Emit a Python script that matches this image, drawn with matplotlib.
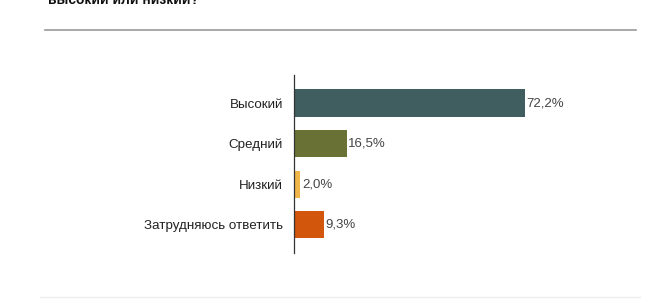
import matplotlib.pyplot as plt
from matplotlib.lines import Line2D

# данные
categories = ['Высокий', 'Средний', 'Низкий', 'Затрудняюсь ответить']
values = [72.2, 16.5, 2.0, 9.3]
value_labels = ['72,2%', '16,5%', '2,0%', '9,3%']
colors = ['#405e5f', '#697234', '#f1b64a', '#d2560c']

plt.rcParams['font.family'] = ['Liberation Sans', 'DejaVu Sans']

fig = plt.figure(figsize=(6.6, 3.0), dpi=100)
ax = fig.add_axes([0.4455, 0.157, 0.485, 0.593])

ax.barh(range(len(categories)), values, height=0.67, color=colors)
for i, v in enumerate(values):
    ax.text(v + 0.5, i, value_labels[i], va='center', ha='left',
            fontsize=9.5, color='#444444')

ax.set_ylim(3.69, -0.69)
ax.set_xlim(0, 100)
ax.set_yticks(range(len(categories)))
ax.set_yticklabels(categories, fontsize=9.6, color='#222222')
ax.tick_params(axis='y', length=0, pad=8)
ax.set_xticks([])
for s in ['top', 'right', 'bottom']:
    ax.spines[s].set_visible(False)
ax.spines['left'].set_color('#333333')
ax.spines['left'].set_linewidth(0.9)

# обрезанный заголовок
fig.text(0.073, 0.985, 'высокий или низкий?', fontsize=10, fontweight='bold',
         color='#111111', ha='left', va='baseline')

# разделительная линия
fig.add_artist(Line2D([0.068, 0.964], [0.9, 0.9], color='#999999', linewidth=1.2))
fig.add_artist(Line2D([0.06, 0.97], [0.01, 0.01], color='#eeeeee', linewidth=1.0))

fig.savefig('out.png', dpi=100)
